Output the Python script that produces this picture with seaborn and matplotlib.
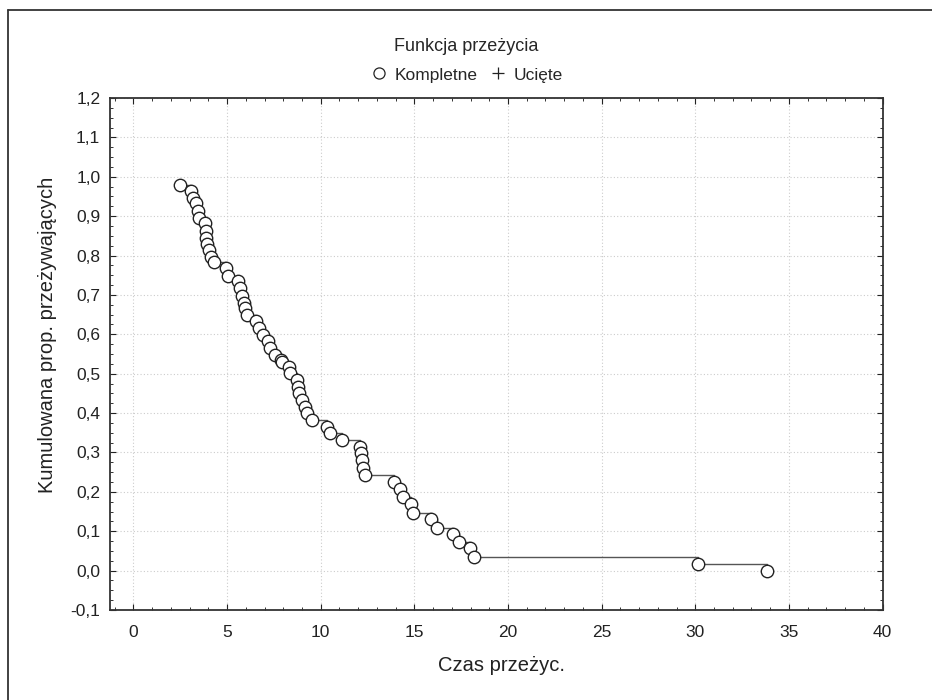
import numpy as np
import pandas as pd
import matplotlib
matplotlib.use("Agg")
import matplotlib.pyplot as plt
import seaborn as sns
from matplotlib.lines import Line2D
from matplotlib.ticker import MultipleLocator, FuncFormatter

# Czasy zdarzeń (kompletne obserwacje) i skumulowana proporcja przeżywających
czas = [2.51, 3.10, 3.20, 3.34, 3.46, 3.50, 3.80, 3.86, 3.90, 3.93,
        4.02, 4.16, 4.29, 4.97, 5.06, 5.59, 5.68, 5.80, 5.90, 5.95,
        6.04, 6.52, 6.70, 6.92, 7.18, 7.32, 7.54, 7.86, 7.92, 8.30,
        8.34, 8.71, 8.80, 8.84, 9.02, 9.16, 9.29, 9.55, 10.32, 10.50,
        11.14, 12.10, 12.14, 12.20, 12.27, 12.36, 13.93, 14.25, 14.38, 14.82,
        14.91, 15.89, 16.20, 17.09, 17.41, 17.95, 18.18, 30.14, 33.84]
przezycie = [0.979, 0.965, 0.947, 0.933, 0.914, 0.896, 0.882, 0.862, 0.845, 0.829,
             0.814, 0.797, 0.784, 0.768, 0.748, 0.735, 0.717, 0.697, 0.680, 0.666,
             0.649, 0.635, 0.617, 0.598, 0.584, 0.565, 0.547, 0.535, 0.530, 0.518,
             0.503, 0.484, 0.467, 0.452, 0.433, 0.416, 0.399, 0.382, 0.364, 0.349,
             0.332, 0.315, 0.298, 0.281, 0.261, 0.243, 0.224, 0.206, 0.188, 0.168,
             0.147, 0.131, 0.109, 0.092, 0.072, 0.057, 0.035, 0.017, -0.002]

df = pd.DataFrame({"czas": czas, "przezycie": przezycie})

sns.set_style("white")
plt.rcParams['font.family'] = ['Liberation Sans', 'DejaVu Sans']
plt.rcParams['font.size'] = 12.5

fig = plt.figure(figsize=(9.32, 7.0), dpi=100)
ax = fig.add_axes([0.118, 0.1286, 0.829, 0.7314])

# schodkowa krzywa przeżycia
sns.lineplot(data=df, x="czas", y="przezycie", estimator=None, sort=False,
             drawstyle="steps-post", color="#555555", linewidth=1.0, ax=ax)
# punkty zdarzeń
sns.scatterplot(data=df, x="czas", y="przezycie", marker="o", s=80,
                facecolor="white", edgecolor="#222222", linewidth=1.0,
                zorder=3, ax=ax)

ax.set_xlim(-1.25, 40)
ax.set_ylim(-0.1, 1.2)
ax.xaxis.set_major_locator(MultipleLocator(5))
ax.xaxis.set_minor_locator(MultipleLocator(1))
ax.yaxis.set_major_locator(MultipleLocator(0.1))
ax.yaxis.set_minor_locator(MultipleLocator(0.025))
ax.yaxis.set_major_formatter(FuncFormatter(lambda v, p: f"{v:.1f}".replace(".", ",").replace("-0,0", "0,0")))

ax.tick_params(which="both", direction="in", top=True, right=True, bottom=True, left=True,
               color="#333333")
ax.tick_params(which="major", length=4, width=0.8, labelsize=12.5, colors="#222222")
ax.tick_params(which="minor", length=2.5, width=0.7)
ax.tick_params(axis="x", which="major", pad=11)
ax.tick_params(axis="y", which="major", pad=7)

ax.grid(True, which="major", linestyle=(0, (1, 2)), color="#cccccc", linewidth=0.8)
for s in ax.spines.values():
    s.set_color("#333333")
    s.set_linewidth(1.3)

ax.set_xlabel("Czas przeżyc.", fontsize=14.5, color="#222222")
ax.set_ylabel("Kumulowana prop. przeżywających", fontsize=14.5, color="#222222")
ax.yaxis.set_label_coords(-0.0685, 0.537)
ax.xaxis.set_label_coords(0.507, -0.0896)

handles = [
    Line2D([], [], linestyle="none", marker="o", markersize=8, markerfacecolor="white",
           markeredgecolor="#222222", markeredgewidth=0.9, label="Kompletne"),
    Line2D([], [], linestyle="none", marker="+", markersize=9, color="#222222",
           markeredgewidth=0.9, label="Ucięte"),
]
leg = fig.legend(handles=handles, title="Funkcja przeżycia", ncol=2, frameon=False,
                 loc="center", bbox_to_anchor=(0.5, 0.914), fontsize=12.5,
                 title_fontsize=13, handletextpad=0.3, columnspacing=0.55,
                 handlelength=1.2, borderpad=0.2)
leg._legend_box.sep = 9

# ramka wokół rysunku (widoczna u góry i po lewej)
fig.add_artist(Line2D([8 / 932, 8 / 932], [0, 1 - 10 / 700], transform=fig.transFigure,
                      color="#333333", linewidth=1.3))
fig.add_artist(Line2D([8 / 932, 1], [1 - 10 / 700, 1 - 10 / 700], transform=fig.transFigure,
                      color="#333333", linewidth=1.3))

fig.savefig("out.png", dpi=100, facecolor="white")
